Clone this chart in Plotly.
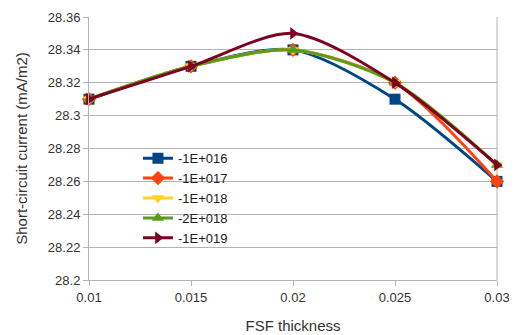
import plotly.graph_objects as go

x_vals = [0.01, 0.015, 0.02, 0.025, 0.03]
series_names = ["-1E+016", "-1E+017", "-1E+018", "-2E+018", "-1E+019"]
s1 = [28.31, 28.33, 28.34, 28.31, 28.26]
s2 = [28.31, 28.33, 28.34, 28.32, 28.26]
s3 = [28.31, 28.33, 28.34, 28.32, 28.27]
s4 = [28.31, 28.33, 28.34, 28.32, 28.27]
s5 = [28.31, 28.33, 28.35, 28.32, 28.27]
series_values = [s1, s2, s3, s4, s5]
colors = ["#004586", "#ff420e", "#ffd320", "#579d1c", "#7e0021"]
symbols = ["square", "diamond", "triangle-down", "triangle-up", "triangle-right"]
x_ticks = [0.01, 0.015, 0.02, 0.025, 0.03]
x_tick_labels = ["0.01", "0.015", "0.02", "0.025", "0.03"]
y_ticks = [28.2, 28.22, 28.24, 28.26, 28.28, 28.3, 28.32, 28.34, 28.36]
y_tick_labels = ["28.2", "28.22", "28.24", "28.26", "28.28", "28.3", "28.32", "28.34", "28.36"]

fig = go.Figure()
for name, vals, c, s in zip(series_names, series_values, colors, symbols):
    fig.add_trace(go.Scatter(
        x=x_vals, y=vals, name=name, mode="lines+markers",
        line=dict(color=c, width=3, shape="spline", smoothing=0.8),
        marker=dict(color=c, symbol=s, size=11),
        cliponaxis=False,
    ))

fig.update_layout(
    width=509, height=327,
    margin=dict(l=81, r=20, t=9, b=55, autoexpand=False),
    paper_bgcolor="white", plot_bgcolor="white",
    font=dict(family="Liberation Sans, Arial, sans-serif", size=13, color="#333333"),
    legend=dict(x=0.12, y=0.52, xanchor="left", yanchor="top",
                bgcolor="rgba(0,0,0,0)", font=dict(size=13, color="#222222"),
                itemwidth=30, tracegroupgap=0),
    showlegend=True,
)
fig.update_xaxes(
    range=[0.01, 0.03], tickvals=x_ticks, ticktext=x_tick_labels,
    showgrid=False, showline=True, linecolor="#b3b3b3", linewidth=1,
    ticks="outside", ticklen=5, tickcolor="#b3b3b3",
    mirror=False, zeroline=False, automargin=False,
    title=dict(text="FSF thickness", font=dict(size=15, color="#333333"), standoff=16),
)
fig.update_yaxes(
    range=[28.2, 28.36], tickvals=y_ticks, ticktext=y_tick_labels,
    showgrid=True, gridcolor="#b3b3b3", gridwidth=1,
    showline=True, linecolor="#b3b3b3", linewidth=1,
    ticks="outside", ticklen=5, tickcolor="#b3b3b3", zeroline=False, automargin=False,
    title=dict(text="Short-circuit current (mA/m2)", font=dict(size=15, color="#333333"), standoff=16),
)
# right border line
fig.add_shape(type="line", xref="paper", yref="paper", x0=1, x1=1, y0=0, y1=1,
              line=dict(color="#b3b3b3", width=1), layer="below")

fig.write_html("out.html")
